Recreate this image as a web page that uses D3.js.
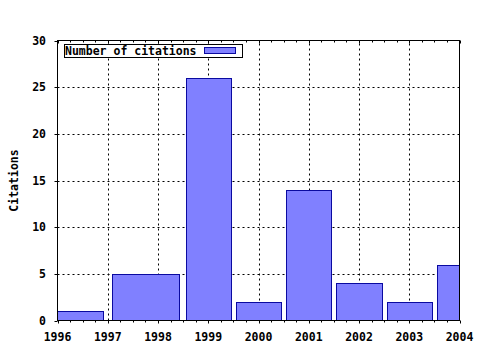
<!DOCTYPE html>
<html>
<head>
<meta charset="utf-8">
<script src="https://cdn.jsdelivr.net/npm/d3@7"></script>
<style>
  body { margin: 0; background: #ffffff; }
  text { font-family: "DejaVu Sans Mono", "Liberation Mono", monospace; font-weight: bold; font-size: 11.5px; fill: #000000; }
</style>
</head>
<body>
<div id="d3-container"></div>
<script>
/* DATA */
const years = [1996, 1998, 1999, 2000, 2001, 2002, 2003, 2004];
const citations = [1, 5, 26, 2, 14, 4, 2, 6];
const xTicks = [1996, 1997, 1998, 1999, 2000, 2001, 2002, 2003, 2004];
const yTicks = [0, 5, 10, 15, 20, 25, 30];
const seriesName = "Number of citations";
const yTitle = "Citations";

/* CONSTANTS */
const width = 480,
  height = 350,
  margin = { top: 40.5, bottom: 29.5, left: 57.5, right: 20.5 },
  boxRelWidth = 0.9,
  barFill = "#8080ff",
  barLine = "#0a0aa0";

const xScale = d3.scaleLinear()
  .domain([1996, 2004])
  .range([margin.left, width - margin.right]);

const yScale = d3.scaleLinear()
  .domain([0, 30])
  .range([height - margin.bottom, margin.top]);

// boxes touch their neighbours (gnuplot style auto width), then shrink to 90%
const boxes = years.map((yr, i) => {
  const left = i === 0 ? yr - (years[1] - yr) / 2 : (years[i - 1] + yr) / 2;
  const right = i === years.length - 1 ? yr + (yr - years[i - 1]) / 2 : (yr + years[i + 1]) / 2;
  const mid = (left + right) / 2, half = (right - left) * boxRelWidth / 2;
  return { year: yr, value: citations[i], x0: mid - half, x1: mid + half };
});

const svg = d3.select("#d3-container")
  .append("svg")
  .attr("width", width)
  .attr("height", height);

const x0 = xScale.range()[0], x1 = xScale.range()[1];
const yB = yScale.range()[0], yT = yScale.range()[1];

svg.append("clipPath")
  .attr("id", "plot-clip")
  .append("rect")
  .attr("x", x0).attr("y", yT)
  .attr("width", x1 - x0).attr("height", yB - yT);

// GRID
const grid = svg.append("g")
  .attr("stroke", "#000000")
  .attr("stroke-width", 1)
  .attr("stroke-dasharray", "2,3");

grid.selectAll("line.vx")
  .data(xTicks.slice(1, -1))
  .join("line")
  .attr("x1", d => Math.round(xScale(d)) + 0.5)
  .attr("x2", d => Math.round(xScale(d)) + 0.5)
  .attr("y1", yB).attr("y2", yT);

grid.selectAll("line.hy")
  .data(yTicks.slice(1, -1))
  .join("line")
  .attr("y1", d => Math.round(yScale(d)) + 0.5)
  .attr("y2", d => Math.round(yScale(d)) + 0.5)
  .attr("x1", x0).attr("x2", x1);

// BARS
svg.append("g")
  .attr("clip-path", "url(#plot-clip)")
  .selectAll("rect")
  .data(boxes)
  .join("rect")
  .attr("x", d => Math.round(xScale(d.x0)) + 0.5)
  .attr("width", d => Math.round(xScale(d.x1)) - Math.round(xScale(d.x0)))
  .attr("y", d => Math.round(yScale(d.value)) + 0.5)
  .attr("height", d => yB - Math.round(yScale(d.value)) - 0.5)
  .attr("fill", barFill)
  .attr("stroke", barLine)
  .attr("stroke-width", 1);

// TICKS
const ticks = svg.append("g")
  .attr("stroke", "#000000")
  .attr("stroke-width", 1);

const minor = d3.range(1996, 2004.01, 0.25).filter(v => !xTicks.includes(v));

ticks.selectAll("line.xmaj")
  .data(xTicks)
  .join("line")
  .attr("x1", d => Math.round(xScale(d)) + 0.5)
  .attr("x2", d => Math.round(xScale(d)) + 0.5)
  .attr("y1", yB).attr("y2", yB + 3);

ticks.selectAll("line.xmin")
  .data(minor)
  .join("line")
  .attr("x1", d => Math.round(xScale(d)) + 0.5)
  .attr("x2", d => Math.round(xScale(d)) + 0.5)
  .attr("y1", yB).attr("y2", yB + 2);

ticks.selectAll("line.xtopmaj")
  .data(xTicks)
  .join("line")
  .attr("x1", d => Math.round(xScale(d)) + 0.5)
  .attr("x2", d => Math.round(xScale(d)) + 0.5)
  .attr("y1", yT).attr("y2", yT + 3);

ticks.selectAll("line.xtopmin")
  .data(minor)
  .join("line")
  .attr("x1", d => Math.round(xScale(d)) + 0.5)
  .attr("x2", d => Math.round(xScale(d)) + 0.5)
  .attr("y1", yT).attr("y2", yT + 2);

ticks.selectAll("line.ymaj")
  .data(yTicks)
  .join("line")
  .attr("y1", d => Math.round(yScale(d)) + 0.5)
  .attr("y2", d => Math.round(yScale(d)) + 0.5)
  .attr("x1", x0 - 3).attr("x2", x0);

// BORDER
svg.append("rect")
  .attr("x", x0).attr("y", yT)
  .attr("width", x1 - x0).attr("height", yB - yT)
  .attr("fill", "none")
  .attr("stroke", "#000000")
  .attr("stroke-width", 1);

// TICK LABELS
svg.append("g")
  .selectAll("text")
  .data(xTicks)
  .join("text")
  .attr("x", d => xScale(d))
  .attr("y", 341)
  .attr("text-anchor", "middle")
  .text(d => d);

svg.append("g")
  .selectAll("text")
  .data(yTicks)
  .join("text")
  .attr("x", 46)
  .attr("y", d => yScale(d) + 4)
  .attr("text-anchor", "end")
  .text(d => d);

// AXIS TITLE
svg.append("text")
  .attr("transform", `translate(17.5, ${(yT + yB) / 2}) rotate(-90)`)
  .attr("text-anchor", "middle")
  .text(yTitle);

// LEGEND
const legend = svg.append("g");
legend.append("rect")
  .attr("x", 64.5).attr("y", 44.5)
  .attr("width", 178).attr("height", 13)
  .attr("fill", "#ffffff")
  .attr("stroke", "#000000");
legend.append("text")
  .attr("x", 65)
  .attr("y", 55)
  .text(seriesName);
legend.append("rect")
  .attr("x", 204.5).attr("y", 47.5)
  .attr("width", 31).attr("height", 6)
  .attr("fill", barFill)
  .attr("stroke", barLine);
</script>
</body>
</html>
